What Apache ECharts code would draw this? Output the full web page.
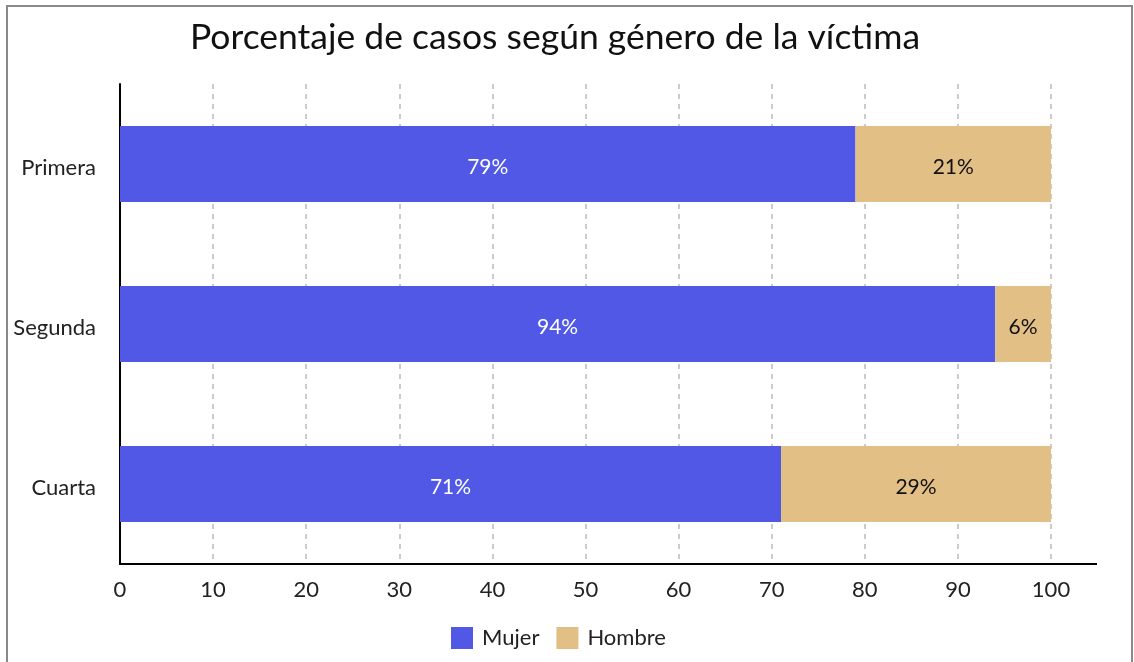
<!DOCTYPE html>
<html>
<head>
<meta charset="utf-8">
<script src="https://cdn.jsdelivr.net/npm/echarts@6/dist/echarts.min.js"></script>
<style>
  html, body { margin: 0; padding: 0; background: #fff; }
  .frame { position: absolute; left: 6px; top: 5px; width: 1123px; height: 700px; border: 2px solid #8a8a8a; }
  #chart { position: absolute; left: 0; top: 0; width: 1134px; height: 662px; }
</style>
</head>
<body>
<div class="frame"></div>
<div id="chart"></div>
<script>
const categories = ['Primera', 'Segunda', 'Cuarta'];
const mujer = [79, 94, 71];
const hombre = [21, 6, 29];
const xTicks = [0, 10, 20, 30, 40, 50, 60, 70, 80, 90, 100];

const font = 'Lato, "Open Sans", sans-serif';
const chart = echarts.init(document.getElementById('chart'), null, { renderer: 'canvas' });

const option = {
  backgroundColor: 'transparent',
  textStyle: { fontFamily: font },
  title: {
    text: 'Porcentaje de casos según género de la víctima',
    left: 550,
    textAlign: 'center',
    top: 15,
    textStyle: { fontFamily: font, fontSize: 35.5, fontWeight: 'normal', color: '#111' }
  },
  legend: {
    top: 622,
    left: 446,
    itemWidth: 22,
    itemHeight: 22,
    itemGap: 17,
    icon: 'rect',
    textStyle: { fontFamily: font, fontSize: 22, color: '#222', padding: [2, 0, 0, 4] },
    data: ['Mujer', 'Hombre']
  },
  grid: { left: 120, right: 83, top: 84, bottom: 98, containLabel: false },
  xAxis: {
    type: 'value',
    min: 0,
    max: 100,
    interval: 10,
    axisLine: { show: true, lineStyle: { color: '#000', width: 2 } },
    axisTick: { show: false },
    axisLabel: { fontFamily: font, fontSize: 22, color: '#222', margin: 15,
      formatter: v => xTicks.includes(v) ? String(v) : '' },
    splitLine: { show: true, lineStyle: { color: '#bbb', type: [5, 5], width: 1.5 } }
  },
  yAxis: {
    type: 'category',
    inverse: true,
    data: categories,
    axisLine: { show: true, lineStyle: { color: '#000', width: 2 } },
    axisTick: { show: false },
    axisLabel: {
      margin: 24,
      formatter: v => '{c|' + v + '}',
      rich: { c: { fontFamily: font, fontSize: 22, color: '#222', padding: [7, 0, 0, 0] } }
    }
  },
  series: [
    {
      name: 'Mujer',
      type: 'bar',
      stack: 'total',
      data: mujer,
      barWidth: '47.5%',
      itemStyle: { color: '#5058E5' },
      label: { show: true, position: 'inside', formatter: '{c}%', color: '#fff', fontFamily: font, fontSize: 21, offset: [0, 3] }
    },
    {
      name: 'Hombre',
      type: 'bar',
      stack: 'total',
      data: hombre,
      barWidth: '47.5%',
      itemStyle: { color: '#E2BF85' },
      label: { show: true, position: 'inside', formatter: '{c}%', color: '#111', fontFamily: font, fontSize: 21, offset: [0, 3] }
    }
  ],
  graphic: [
    // x axis line runs a bit past the last tick
    { type: 'line', shape: { x1: 1050, y1: 564, x2: 1097, y2: 564 }, style: { stroke: '#000', lineWidth: 2 } }
  ]
};

chart.setOption(option);
</script>
</body>
</html>
